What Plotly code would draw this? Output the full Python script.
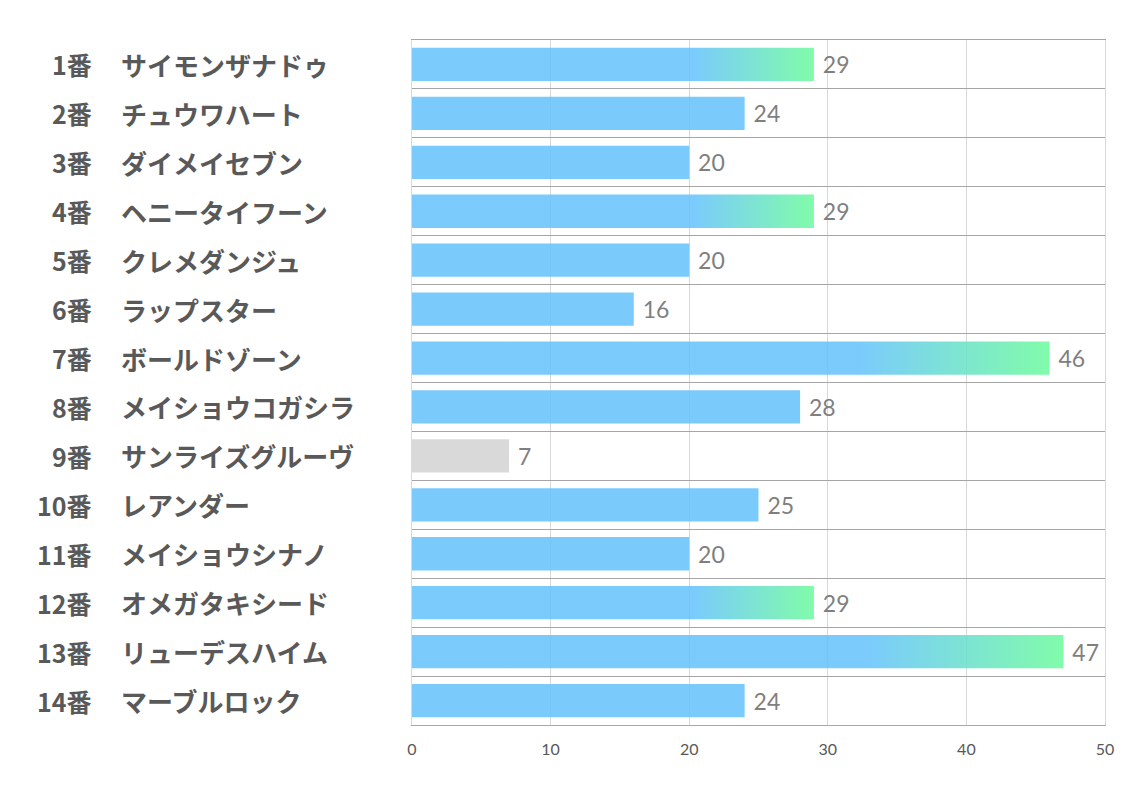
import plotly.graph_objects as go

numbers = ["1番", "2番", "3番", "4番", "5番", "6番", "7番", "8番", "9番", "10番", "11番", "12番", "13番", "14番"]
names = ["サイモンザナドゥ", "チュウワハート", "ダイメイセブン", "ヘニータイフーン", "クレメダンジュ",
         "ラップスター", "ボールドゾーン", "メイショウコガシラ", "サンライズグルーヴ", "レアンダー",
         "メイショウシナノ", "オメガタキシード", "リューデスハイム", "マーブルロック"]
values = [29, 24, 20, 29, 20, 16, 46, 28, 7, 25, 20, 29, 47, 24]
# bar style: 'grad' = gradient highlight, 'blue' = normal, 'gray' = low
styles = ["grad", "blue", "blue", "grad", "blue", "blue", "grad", "blue", "gray", "blue", "blue", "grad", "grad", "blue"]
x_ticks = [0, 10, 20, 30, 40, 50]

BLUE = "rgba(99,194,252,0.85)"
GREEN = "rgba(106,251,155,0.85)"
GRAY = "rgba(210,210,210,0.85)"
BAR_W = 0.68

idx = list(range(len(values)))
colors = []
for s in styles:
    if s == "grad":
        colors.append("rgba(0,0,0,0)")
    elif s == "gray":
        colors.append(GRAY)
    else:
        colors.append(BLUE)

fig = go.Figure()
fig.add_trace(go.Bar(
    x=values, y=idx, orientation="h", width=BAR_W,
    marker=dict(color=colors, line=dict(width=0)),
    text=[" " + str(v) for v in values], textposition="outside",
    textfont=dict(family="Lato, Open Sans, sans-serif", size=23, color="#7F7F7F"),
    cliponaxis=False, hoverinfo="skip", showlegend=False,
))

for i, (v, s) in enumerate(zip(values, styles)):
    if s != "grad":
        continue
    h = BAR_W / 2
    fig.add_trace(go.Scatter(
        x=[0, v, v, 0, 0], y=[i - h, i - h, i + h, i + h, i - h],
        mode="lines", fill="toself", line=dict(width=0),
        fillgradient=dict(type="horizontal",
                          colorscale=[[0, BLUE], [0.7, BLUE], [1, GREEN]]),
        hoverinfo="skip", showlegend=False,
    ))

for i in idx:
    fig.add_annotation(x=0, xref="paper", y=i, yref="y", text=numbers[i],
                       xanchor="right", xshift=-318, showarrow=False,
                       font=dict(family="Noto Sans CJK JP", size=25, color="#595959", weight="bold"))
    fig.add_annotation(x=0, xref="paper", y=i, yref="y", text=names[i],
                       xanchor="left", xshift=-293, showarrow=False,
                       font=dict(family="Noto Sans CJK JP", size=26, color="#595959", weight="bold"))

fig.update_layout(
    width=1126, height=785,
    margin=dict(l=404, r=29, t=32, b=68),
    plot_bgcolor="white", paper_bgcolor="white",
    xaxis=dict(range=[0, 50], tickvals=x_ticks, showgrid=True, gridcolor="#D9D9D9", gridwidth=1,
               zeroline=False, showline=True, mirror=True, linecolor="#A6A6A6", linewidth=1,
               ticks="", tickfont=dict(family="Lato, sans-serif", size=16, color="#595959"),
               ticklabelstandoff=10),
    yaxis=dict(range=[len(values) - 0.5, -0.5], tickmode="linear", tick0=-0.5, dtick=1,
               showticklabels=False, showgrid=True, gridcolor="#A6A6A6", gridwidth=1,
               zeroline=False, showline=True, mirror=True, linecolor="#D9D9D9", linewidth=1),
    bargap=0.32,
)

fig.write_html("out.html")
